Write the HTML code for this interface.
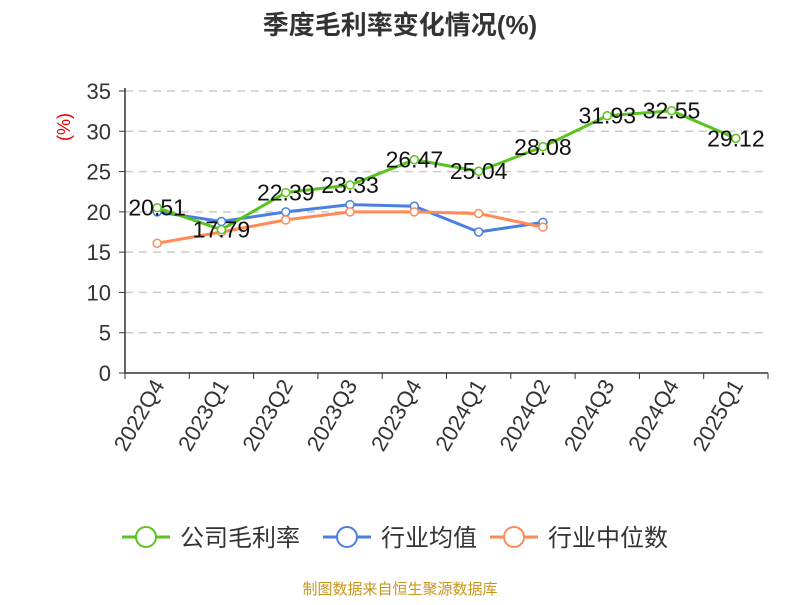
<!DOCTYPE html>
<html><head><meta charset="utf-8"><style>
body{margin:0;background:#fff;width:800px;height:600px;overflow:hidden;font-family:"Liberation Sans","Noto Sans CJK SC",sans-serif}
</style></head><body>
<svg width="800" height="600" id="c">
<text x="400" y="34" text-anchor="middle" font-size="26" font-weight="bold" fill="#333">季度毛利率变化情况(%)</text>
<text transform="translate(70,127) rotate(-90)" text-anchor="middle" font-size="18" fill="#e00">(%)</text>
<text x="400" y="594" text-anchor="middle" font-size="15" fill="#c8961e">制图数据来自恒生聚源数据库</text>
<g id="grid"></g><g id="axes"></g><g id="series"></g><g id="legend"></g>
</svg>
<script>
const categories=["2022Q4","2023Q1","2023Q2","2023Q3","2023Q4","2024Q1","2024Q2","2024Q3","2024Q4","2025Q1"];
const companyMargin=[20.51,17.79,22.39,23.33,26.47,25.04,28.08,31.93,32.55,29.12];
const industryAvg=[20.0,18.8,20.0,20.9,20.7,17.5,18.7];
const industryMedian=[16.1,17.5,19.0,20.0,20.0,19.8,18.1];
const yTicks=[0,5,10,15,20,25,30,35];
const NS="http://www.w3.org/2000/svg";
const X0=125,X1=768,Y0=373,Y1=91,YMAX=35;
const bw=(X1-X0)/categories.length;
const xs=i=>X0+bw*(i+0.5);
const ys=v=>Y0-(v/YMAX)*(Y0-Y1);
function mk(t,a,p){const e=document.createElementNS(NS,t);for(const k in a)e.setAttribute(k,a[k]);p.appendChild(e);return e;}
const grid=document.getElementById('grid'),axes=document.getElementById('axes'),ser=document.getElementById('series'),leg=document.getElementById('legend');
yTicks.forEach(v=>{
 if(v>0){const g=mk('line',{x1:X0,x2:X1,y1:ys(v),y2:ys(v),stroke:'#ccc','stroke-dasharray':'8,6','stroke-width':1.5},grid);
 
 }
 const tk=mk('line',{x1:X0-6,x2:X0,y1:ys(v),y2:ys(v),stroke:'#333'},axes);
 
 
 const t=mk('text',{x:X0-14,y:ys(v)+8,'text-anchor':'end','font-size':22,fill:'#333'},axes);t.textContent=v;
 
 
});
const ya=mk('line',{x1:X0,x2:X0,y1:Y1-3,y2:Y0,stroke:'#333','stroke-width':1.5},axes);


const xa=mk('line',{x1:X0,x2:X1,y1:Y0,y2:Y0,stroke:'#333','stroke-width':1.5},axes);


for(let i=0;i<=categories.length;i++){const l=mk('line',{x1:X0+bw*i,x2:X0+bw*i,y1:Y0,y2:Y0+6,stroke:'#333'},axes);
 
 }
categories.forEach((c,i)=>{
 const t=mk('text',{transform:`translate(${xs(i)+8},${Y0+12}) rotate(-60)`,'text-anchor':'end','font-size':22,fill:'#333'},axes);t.textContent=c;
 
 
});
function series(vals,color,name,labels){
 const g=mk('g',{},ser);
 
 
 const pl=mk('polyline',{points:vals.map((v,i)=>xs(i)+','+ys(v)).join(' '),fill:'none',stroke:color,'stroke-width':3},g);
 
 
 vals.forEach((v,i)=>{
  const c=mk('circle',{cx:xs(i),cy:ys(v),r:4,fill:'#fff',stroke:color,'stroke-width':1.5},g);
  
  
 });
 if(labels)vals.forEach((v,i)=>{
  const t=mk('text',{x:xs(i),y:ys(v)+8,'text-anchor':'middle','font-size':23,fill:'#111'},g);t.textContent=v.toFixed(2);
  
  
 });
}
series(industryAvg,'#4a7fe0','industry-avg',false);
series(industryMedian,'#ff8a55','industry-median',false);
series(companyMargin,'#5ac41e','company-margin',true);
[["公司毛利率",'#5ac41e',122],["行业均值",'#4a7fe0',323],["行业中位数",'#ff8a55',490]].forEach(([n,c,x])=>{
 const g=mk('g',{},leg);
 
 
 mk('line',{x1:x,x2:x+48,y1:537,y2:537,stroke:c,'stroke-width':3},g);
 mk('circle',{cx:x+24,cy:537,r:10,fill:'#fff',stroke:c,'stroke-width':2},g);
 const t=mk('text',{x:x+58,y:546,'font-size':24,fill:'#333'},g);t.textContent=n;
});
</script>
</body></html>
